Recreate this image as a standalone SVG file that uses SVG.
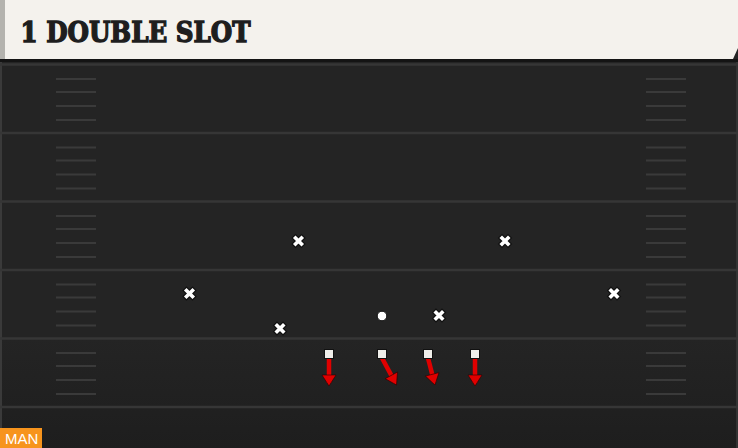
<svg xmlns="http://www.w3.org/2000/svg" width="738" height="448" viewBox="0 0 738 448">
  <defs>
    <style>
      .yard { stroke: #363636; stroke-width: 2.5; }
      .hash { stroke: #3a3a3a; stroke-width: 2; }
      .route { stroke: #e00000; stroke-width: 4.5; fill: none; marker-end: url(#ah); }
      .off { fill: #efeeea; stroke: #111; stroke-width: 1; }
      .title { font-family: "DejaVu Serif", "Liberation Serif", serif; font-weight: bold; font-size: 27px; fill: #1e1e1e; stroke: #1e1e1e; stroke-width: 1.4; }
      .tag { font-family: "Liberation Sans", Arial, sans-serif; font-size: 15px; fill: #ffffff; }
    </style>
    <marker id="ah" markerUnits="userSpaceOnUse" markerWidth="14" markerHeight="16" viewBox="-1 -8 13 16" refX="8" refY="0" orient="auto">
      <path d="M0,-7 L11,0 L0,7 Z" fill="#e00000" stroke="#2a0000" stroke-width="0.6"/>
    </marker>
    <g id="xmark">
      <path d="M-3,-3 L3,3 M3,-3 L-3,3" stroke="#111" stroke-width="6" stroke-linecap="square"/>
      <path d="M-3,-3 L3,3 M3,-3 L-3,3" stroke="#ffffff" stroke-width="3.6" stroke-linecap="square"/>
    </g>
    <linearGradient id="bot" x1="0" y1="0" x2="0" y2="1">
      <stop offset="0" stop-color="#242424"/>
      <stop offset="1" stop-color="#1e1e1e"/>
    </linearGradient>
  </defs>

  <!-- field -->
  <rect x="0" y="0" width="738" height="448" fill="#242424"/>
  <rect x="0" y="338" width="738" height="110" fill="url(#bot)"/>
  <rect x="0" y="59" width="2" height="389" fill="#3a3a3a"/>
  <rect x="736" y="59" width="2" height="389" fill="#333"/>

  <g id="yardlines">
    <line class="yard" x1="0" y1="64.5" x2="738" y2="64.5"/>
    <line class="yard" x1="0" y1="133" x2="738" y2="133"/>
    <line class="yard" x1="0" y1="201.5" x2="738" y2="201.5"/>
    <line class="yard" x1="0" y1="270" x2="738" y2="270"/>
    <line class="yard" x1="0" y1="338.5" x2="738" y2="338.5"/>
    <line class="yard" x1="0" y1="407" x2="738" y2="407"/>
  </g>

  <g id="hashes">
    <path class="hash" d="M56,79H96M56,92H96M56,106H96M56,120H96
      M56,147.5H96M56,160.5H96M56,174.5H96M56,188.5H96
      M56,216H96M56,229H96M56,243H96M56,257H96
      M56,284.5H96M56,297.5H96M56,311.5H96M56,325.5H96
      M56,353H96M56,366H96M56,380H96M56,394H96
      M646,79H686M646,92H686M646,106H686M646,120H686
      M646,147.5H686M646,160.5H686M646,174.5H686M646,188.5H686
      M646,216H686M646,229H686M646,243H686M646,257H686
      M646,284.5H686M646,297.5H686M646,311.5H686M646,325.5H686
      M646,353H686M646,366H686M646,380H686M646,394H686"/>
  </g>

  <!-- header -->
  <g id="header">
    <rect x="0" y="59" width="738" height="3" fill="#141414"/>
    <polygon points="0,0 738,0 738,48 733,59 0,59" fill="#f4f2ed"/>
    <rect x="0" y="0" width="5" height="59" fill="#b4b3ae"/>
    <text class="title" x="20.5" y="42" textLength="230" lengthAdjust="spacingAndGlyphs">1 DOUBLE SLOT</text>
  </g>

  <!-- defense -->
  <g id="d1"><use href="#xmark" x="298.5" y="241"/></g>
  <g id="d2"><use href="#xmark" x="505" y="241"/></g>
  <g id="d3"><use href="#xmark" x="189.5" y="293.5"/></g>
  <g id="d4"><use href="#xmark" x="614" y="293.5"/></g>
  <g id="d5"><use href="#xmark" x="280" y="328.5"/></g>
  <g id="d6"><use href="#xmark" x="439" y="315.5"/></g>
  <g id="d7"><circle cx="382" cy="316" r="4.8" fill="#ffffff" stroke="#111" stroke-width="1"/></g>

  <!-- routes -->
  <g id="connectors">
    <line class="route" x1="329" y1="358" x2="329" y2="383"/>
    <line class="route" x1="382" y1="358" x2="395.1" y2="382.4"/>
    <line class="route" x1="428" y1="358" x2="434.2" y2="382.1"/>
    <line class="route" x1="475" y1="358" x2="475" y2="383"/>
  </g>

  <!-- offense -->
  <g id="o1"><rect class="off" x="324.5" y="349.5" width="9" height="9"/></g>
  <g id="o2"><rect class="off" x="377.5" y="349.5" width="9" height="9"/></g>
  <g id="o3"><rect class="off" x="423.5" y="349.5" width="9" height="9"/></g>
  <g id="o4"><rect class="off" x="470.5" y="349.5" width="9" height="9"/></g>

  <!-- tag -->
  <g id="man">
    <rect x="0" y="428" width="42" height="20" fill="#f7941d"/>
    <text class="tag" x="5" y="444">MAN</text>
  </g>
</svg>
